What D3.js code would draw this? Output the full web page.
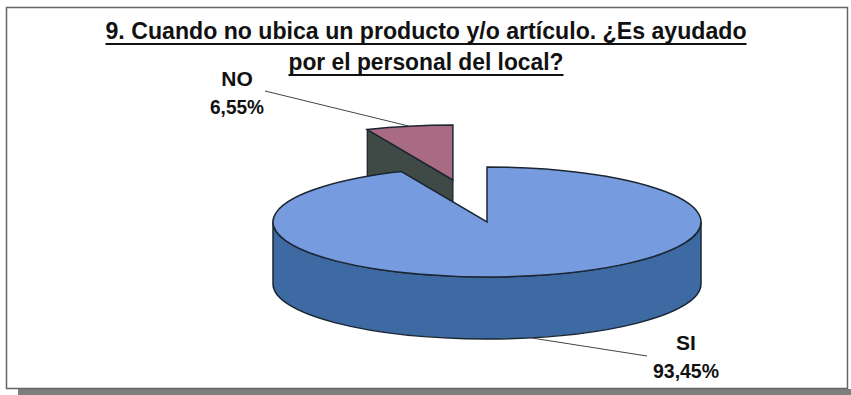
<!DOCTYPE html>
<html>
<head>
    <meta charset="utf-8">
    <style>
        body {
            margin: 0;
            background: #fff;
        }

        svg {
            display: block;
            font-family: "Liberation Sans", Arial, sans-serif;
        }

        .title {
            font-size: 23px;
            font-weight: bold;
            fill: #111;
        }

        .label {
            font-size: 21px;
            font-weight: bold;
            fill: #111;
        }
    </style>
</head>

<body>
    <svg width="851" height="395"></svg>

    <script src="https://d3js.org/d3.v7.min.js"></script>
    <script>
        // chart data
        let categories = ["SI", "NO"];
        let values = [93.45, 6.55];
        let valueLabels = ["93,45%", "6,55%"];
        let titleLines = [
            "9. Cuando no ubica un producto y/o artículo. ¿Es ayudado",
            "por el personal del local?"
        ];

        let width = 851;
        let height = 395;

        let svg = d3.select("svg");

        // frame + grey shadow at the bottom
        svg.append("rect")
            .attr("x", 18)
            .attr("y", 389)
            .attr("width", width - 18)
            .attr("height", 6)
            .style("fill", "#7d7f7e");

        svg.append("rect")
            .attr("x", 6.5)
            .attr("y", 7.5)
            .attr("width", 841)
            .attr("height", 381)
            .style("fill", "#fff")
            .style("stroke", "#666")
            .style("stroke-width", "1.5px");

        // title, two lines underlined
        let titleX = 426;
        let titleY = [39, 70];
        let titleW = [641, 275];

        titleLines.forEach(function (t, i) {
            svg.append("text")
                .attr("class", "title")
                .attr("x", titleX)
                .attr("y", titleY[i])
                .attr("text-anchor", "middle")
                .attr("textLength", titleW[i])
                .attr("lengthAdjust", "spacingAndGlyphs")
                .text(t);

            svg.append("line")
                .attr("x1", titleX - titleW[i] / 2)
                .attr("x2", titleX + titleW[i] / 2)
                .attr("y1", titleY[i] + 5)
                .attr("y2", titleY[i] + 5)
                .style("stroke", "#111")
                .style("stroke-width", "2.2px");
        });

        // 3d pie settings
        let cx = 487, cy = 222;
        let rx = 214, ry = 55;
        let depth = 62;
        let explode = 0.78; // only the small slice is pulled out

        let topColors = { SI: "#769bde", NO: "#a86b82" };
        let sideColors = { SI: "#3e6aa3", NO: "#3f4946" };
        let edge = "#1c2633";

        let pie = d3.pie()
            .sort(null)
            .value(d => d.value);

        let slices = pie(categories.map((c, i) => ({ name: c, value: values[i], label: valueLabels[i] })));

        function pt(a, ox, oy, dz) {
            return [ox + rx * Math.sin(a), oy - ry * Math.cos(a) + dz];
        }

        slices.forEach(function (s) {
            let mid = (s.startAngle + s.endAngle) / 2;
            s.ox = cx;
            s.oy = cy;
            if (s.data.name == "NO") {
                s.ox = cx + explode * rx * Math.sin(mid);
                s.oy = cy - explode * ry * Math.cos(mid);
            }
            s.mid = mid;
        });

        // draw back slice first (NO), then SI in front
        let order = slices.slice().sort((a, b) => a.oy - b.oy);

        order.forEach(function (s) {
            let g = svg.append("g");
            let a0 = s.startAngle, a1 = s.endAngle;
            let c = [s.ox, s.oy];

            // radial wall at the start angle, seen only when it faces the viewer
            if (Math.sin(a0) < 0 && Math.cos(a0) > 0) {
                let p = pt(a0, s.ox, s.oy, 0);
                let p2 = pt(a0, s.ox, s.oy, depth);
                g.append("path")
                    .attr("d", `M${c[0]},${c[1]}L${p[0]},${p[1]}L${p2[0]},${p2[1]}L${c[0]},${c[1] + depth}Z`)
                    .style("fill", sideColors[s.data.name])
                    .style("stroke", edge)
                    .style("stroke-width", "1.3px");
            }

            // outer wall, front half only
            let s0 = Math.max(a0, Math.PI / 2);
            let s1 = Math.min(a1, Math.PI * 1.5);
            if (s1 > s0) {
                let p0 = pt(s0, s.ox, s.oy, 0);
                let p1 = pt(s1, s.ox, s.oy, 0);
                let q0 = pt(s0, s.ox, s.oy, depth);
                let q1 = pt(s1, s.ox, s.oy, depth);
                g.append("path")
                    .attr("d", `M${p0}A${rx},${ry} 0 0 1 ${p1}L${q1}A${rx},${ry} 0 0 0 ${q0}Z`)
                    .style("fill", sideColors[s.data.name])
                    .style("stroke", edge)
                    .style("stroke-width", "1.5px");
            }

            // top face
            let t0 = pt(a0, s.ox, s.oy, 0);
            let t1 = pt(a1, s.ox, s.oy, 0);
            let large = (a1 - a0) > Math.PI ? 1 : 0;
            g.append("path")
                .attr("d", `M${c}L${t0}A${rx},${ry} 0 ${large} 1 ${t1}Z`)
                .style("fill", topColors[s.data.name])
                .style("stroke", edge)
                .style("stroke-width", "1.5px");
        });

        // labels with leader lines
        let labelPos = {
            NO: { x: 237, y: 86, lx: 265, ly: 91, dz: 0, w: 54 },
            SI: { x: 686, y: 350, lx: 647, ly: 356, dz: depth, w: 66 }
        };

        slices.forEach(function (s) {
            let lp = labelPos[s.data.name];
            let anchor = pt(s.mid, s.ox, s.oy, lp.dz);

            svg.append("line")
                .attr("x1", lp.lx)
                .attr("y1", lp.ly)
                .attr("x2", anchor[0])
                .attr("y2", anchor[1])
                .style("stroke", "#444")
                .style("stroke-width", "1px");

            svg.append("text")
                .attr("class", "label")
                .attr("text-anchor", "middle")
                .attr("x", lp.x)
                .attr("y", lp.y)
                .text(s.data.name);

            svg.append("text")
                .attr("class", "label")
                .attr("text-anchor", "middle")
                .attr("x", lp.x)
                .attr("y", lp.y + 28)
                .attr("textLength", lp.w)
                .attr("lengthAdjust", "spacingAndGlyphs")
                .text(s.data.label);
        });
    </script>
</body>
</html>
